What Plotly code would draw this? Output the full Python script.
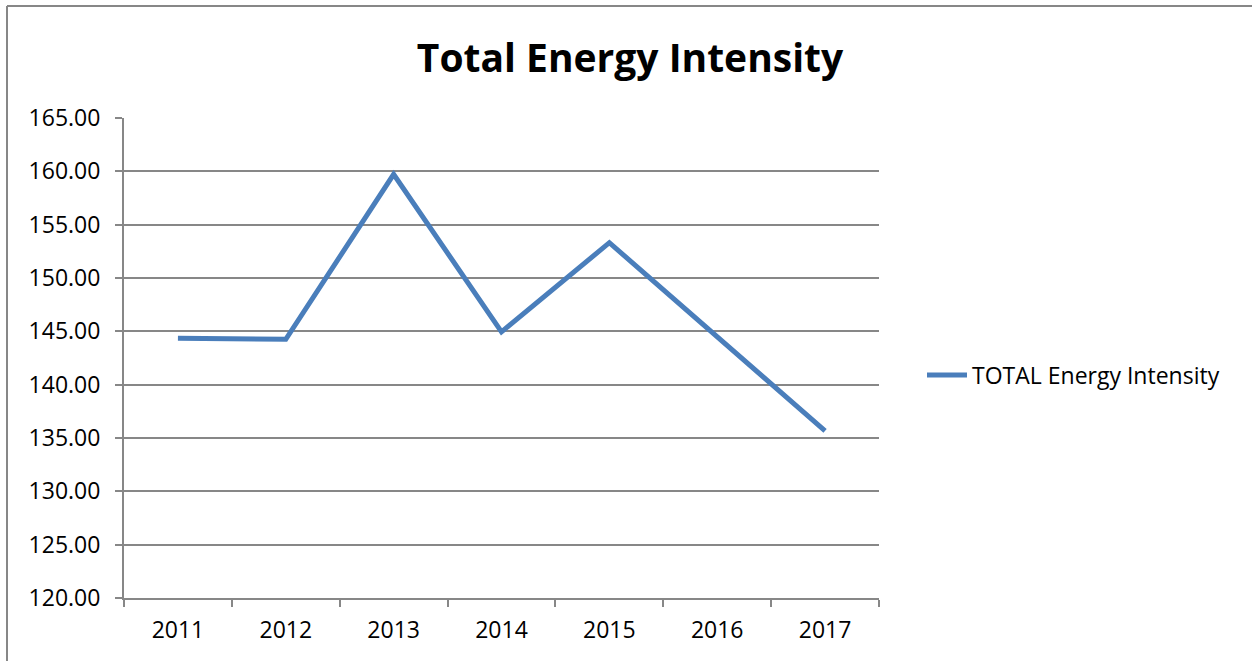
import plotly.graph_objects as go

years = [2011, 2012, 2013, 2014, 2015, 2016, 2017]
values = [144.34, 144.25, 159.72, 144.95, 153.31, 144.5, 135.66]
series_name = "TOTAL Energy Intensity"
title = "Total Energy Intensity"

W, H = 1253, 661
L, R, T, B = 124, 879, 118, 598
pw, ph = R - L, B - T

def px(x):
    return (x - L) / pw

def py(y):
    return (B - y) / ph

fig = go.Figure()
fig.add_trace(go.Scatter(
    x=years, y=values, mode="lines", name=series_name,
    line=dict(color="#4a7ebb", width=5),
))

grid = "#878787"
fig.update_layout(
    width=W, height=H,
    margin=dict(l=L, r=W - R, t=T, b=H - B, autoexpand=False),
    paper_bgcolor="white", plot_bgcolor="white",
    font=dict(family="Open Sans, Liberation Sans, sans-serif", size=23, color="black"),
    title=dict(text="<b>" + title + "</b>", x=630 / W, xanchor="center",
               y=1 - 58 / H, yanchor="middle",
               font=dict(size=39, family="Open Sans, sans-serif", color="black")),
    showlegend=True,
    legend=dict(x=px(922), y=py(375), xanchor="left", yanchor="middle",
                font=dict(size=23), bgcolor="rgba(0,0,0,0)",
                itemwidth=40),
    xaxis=dict(
        range=[2010.5, 2017.5], tickmode="array", tickvals=years,
        ticktext=[str(y) for y in years], ticks="", showgrid=False,
        showline=True, linecolor=grid, linewidth=2, zeroline=False,
        ticklabelstandoff=10,
        minor=dict(tickmode="linear", tick0=0.5, dtick=1, ticks="outside",
                   ticklen=7, tickcolor=grid, tickwidth=2, showgrid=False),
        fixedrange=True,
    ),
    yaxis=dict(
        range=[120, 165], tickmode="linear", tick0=120, dtick=5,
        tickformat=".2f", showgrid=True, gridcolor=grid, gridwidth=2,
        showline=True, linecolor=grid, linewidth=2, zeroline=False,
        ticks="outside", ticklen=7, tickcolor=grid, tickwidth=2,
        ticklabelstandoff=10,
        fixedrange=True,
    ),
    shapes=[
        dict(type="line", xref="paper", yref="paper",
             x0=px(7), x1=px(1252), y0=py(6), y1=py(6),
             line=dict(color=grid, width=2)),
        dict(type="line", xref="paper", yref="paper",
             x0=px(7), x1=px(7), y0=py(6), y1=py(665),
             line=dict(color=grid, width=2)),
    ],
)
fig.write_html("out.html", config={"displayModeBar": False},
               post_script="document.body.style.margin='0';document.body.style.padding='0';")
